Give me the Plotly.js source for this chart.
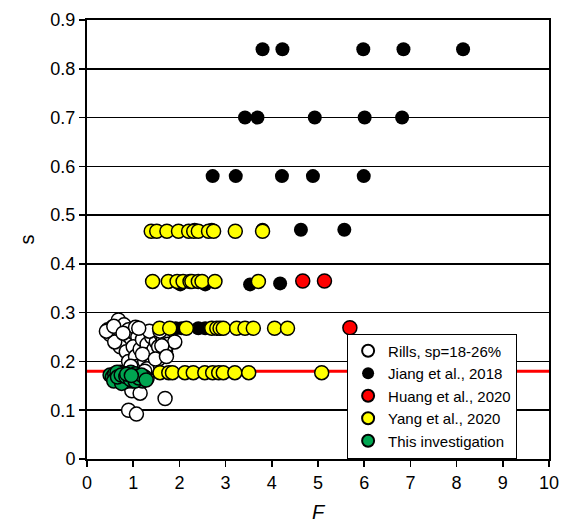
<!DOCTYPE html>
<html><head><meta charset="utf-8">
<script src="https://cdn.plot.ly/plotly-3.0.1.min.js"></script>
<style>html,body{margin:0;padding:0;background:#fff}#chart{width:563px;height:523px}</style>
</head><body><div id="chart"></div>
<script>
// Rills, sp=18-26%
const rillsF = [0.45,0.50,0.55,0.60,0.65,0.68,0.70,0.75,0.80,0.85,0.90,0.95,1.00,1.05,1.10,0.72,0.60,0.42,0.58,0.78,
  0.85,0.90,1.00,1.05,1.10,1.15,1.20,1.25,1.30,1.35,1.40,1.45,1.50,1.55,1.60,1.65,1.70,1.75,1.90,1.40,1.55,1.30,1.20,1.35,1.12,1.48,1.62,
  1.20,1.30,0.97,1.15,1.69,0.90,1.07,0.95,1.25,1.58,1.72];
const rillsS = [0.265,0.255,0.270,0.260,0.250,0.285,0.265,0.245,0.275,0.255,0.265,0.240,0.260,0.270,0.250,0.230,0.240,0.262,0.272,0.258,
  0.220,0.200,0.230,0.210,0.190,0.225,0.245,0.200,0.235,0.215,0.250,0.225,0.240,0.230,0.255,0.245,0.220,0.235,0.240,0.195,0.205,0.185,0.215,0.262,0.268,0.205,0.232,
  0.170,0.165,0.140,0.135,0.124,0.100,0.092,0.190,0.180,0.262,0.210];
// Jiang et al., 2018
const jiangF = [3.80,4.23,5.98,6.85,8.14, 3.42,3.69,4.93,6.01,6.82, 2.72,3.22,4.22,4.89,5.99, 2.33,2.70,3.80,4.63,5.57, 2.02,2.56,3.53,4.18, 1.92,2.05,2.41,2.56,2.70,2.95];
const jiangS = [0.84,0.84,0.84,0.84,0.84, 0.70,0.70,0.70,0.70,0.70, 0.58,0.58,0.58,0.58,0.58, 0.47,0.47,0.47,0.47,0.47, 0.358,0.358,0.358,0.36, 0.268,0.268,0.268,0.268,0.268,0.268];
// Huang et al., 2020
const huangF = [4.67,5.14,5.69];
const huangS = [0.365,0.365,0.269];
// Yang et al., 2020
const yangF = [1.39,1.51,1.73,1.98,2.20,2.31,2.41,2.63,2.74,3.21,3.80,
  1.42,1.76,1.95,2.08,2.23,2.27,2.41,2.49,2.77,3.71,
  1.57,1.79,2.15,2.70,2.81,2.88,2.95,3.24,3.42,3.60,4.06,4.34,
  1.58,1.77,1.85,2.12,2.30,2.55,2.72,2.85,2.95,3.20,3.50,5.08];
const yangS = [0.467,0.467,0.467,0.467,0.467,0.467,0.467,0.467,0.467,0.467,0.467,
  0.364,0.364,0.364,0.364,0.364,0.364,0.364,0.364,0.364,0.364,
  0.268,0.268,0.268,0.268,0.268,0.268,0.268,0.268,0.268,0.268,0.268,0.268,
  0.177,0.177,0.177,0.177,0.177,0.177,0.177,0.177,0.177,0.177,0.177,0.177];
// This investigation
const thisF = [0.50,0.55,0.60,0.62,0.68,0.70,0.72,0.75,0.78,0.80,0.82,0.85,0.88,0.90,0.92,0.95,0.98,1.00,1.02,1.05,1.08,1.10,1.15,1.20,1.25,0.65,0.58,0.75,
  0.66,0.74,0.84,0.94,1.04,1.12,1.18,1.28,0.86,0.96];
const thisS = [0.172,0.168,0.175,0.165,0.170,0.160,0.178,0.163,0.170,0.158,0.175,0.165,0.160,0.172,0.167,0.178,0.160,0.170,0.165,0.175,0.162,0.170,0.165,0.160,0.168,0.178,0.160,0.155,
  0.168,0.172,0.169,0.163,0.160,0.166,0.172,0.162,0.174,0.171];
// threshold line
const lineF = [0,10];
const lineS = [0.18,0.18];

const ms = 14;
const outline = {color:'#000', width:1.5};
const traces = [
  {x:lineF, y:lineS, mode:'lines', line:{color:'#ff0000', width:3}, showlegend:false, hoverinfo:'skip'},
  {x:rillsF, y:rillsS, mode:'markers', name:'Rills, sp=18-26%', marker:{color:'#ffffff', size:ms, line:outline}},
  {x:jiangF, y:jiangS, mode:'markers', name:'Jiang et al., 2018', marker:{color:'#000000', size:ms, line:{color:'#000',width:0}}},
  {x:huangF, y:huangS, mode:'markers', name:'Huang et al., 2020', marker:{color:'#ff0000', size:ms, line:outline}},
  {x:yangF, y:yangS, mode:'markers', name:'Yang et al., 2020', marker:{color:'#ffff00', size:ms, line:outline}},
  {x:thisF, y:thisS, mode:'markers', name:'This investigation', marker:{color:'#00a651', size:ms, line:outline}}
];
const font = {family:'"Liberation Sans", Arial, sans-serif', size:18, color:'#000'};
const layout = {
  width:563, height:523,
  margin:{l:87, r:14, t:20, b:64},
  paper_bgcolor:'#fff', plot_bgcolor:'#fff',
  font: font,
  showlegend:true,
  legend:{x:0.563, y:0.1435, xanchor:'left', yanchor:'middle', bgcolor:'#fff', bordercolor:'#000', borderwidth:1,
    font:{family:font.family, size:15, color:'#000'}, itemwidth:30, tracegroupgap:0, itemsizing:'constant'},
  xaxis:{range:[0,10], dtick:1, tick0:0, showgrid:false, zeroline:false, showline:true, linecolor:'#000', linewidth:2, mirror:true,
    ticks:'outside', ticklen:6, tickwidth:1.5, tickcolor:'#000', tickfont:font,
    title:{text:'<i>F</i>', font:{family:font.family, size:20}, standoff:14}},
  yaxis:{range:[0,0.9], dtick:0.1, tick0:0, showgrid:true, gridcolor:'#000', gridwidth:1.5, zeroline:false, showline:true, linecolor:'#000', linewidth:2, mirror:true,
    ticks:'outside', ticklen:6, tickwidth:1.5, tickcolor:'#000', tickfont:font,
    title:{text:'s', font:{family:font.family, size:20}, standoff:10}}
};
Plotly.newPlot('chart', traces, layout, {displayModeBar:false, staticPlot:true});
</script>
</body></html>
